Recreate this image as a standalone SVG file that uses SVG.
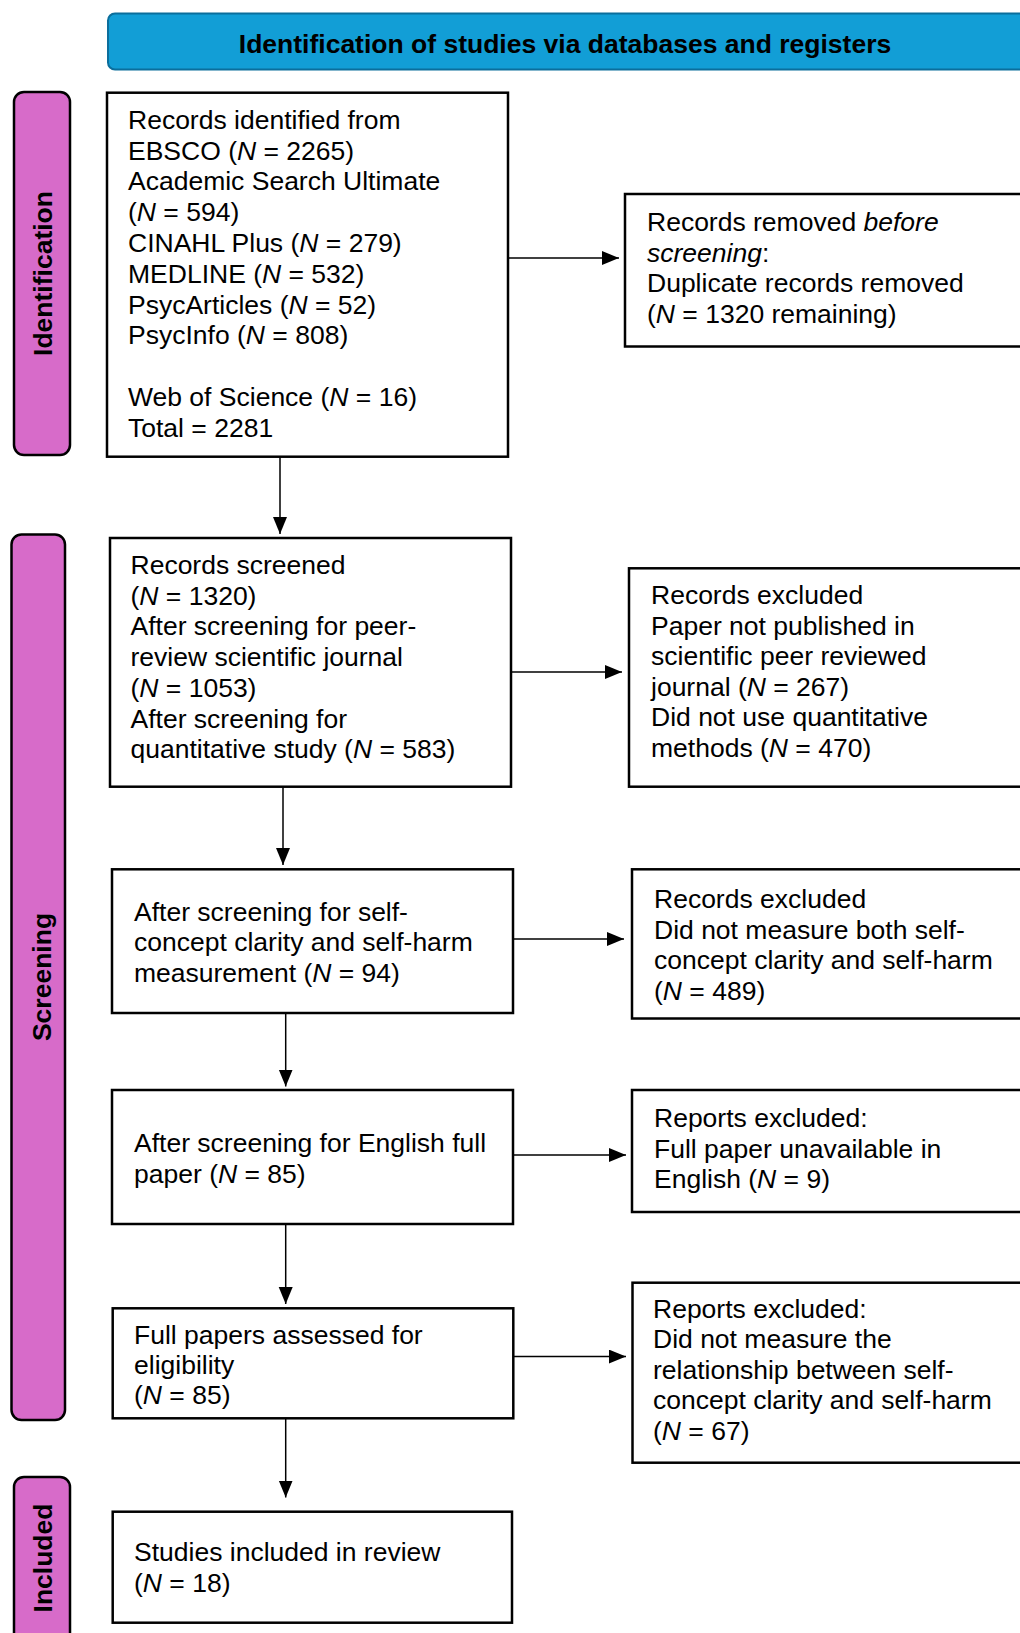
<svg xmlns="http://www.w3.org/2000/svg" width="1020" height="1633" viewBox="0 0 1020 1633">
<style>
.box{fill:#fff;stroke:#000;stroke-width:2.5}
.side{fill:#d76bc9;stroke:#000;stroke-width:2.5}
.hdr{fill:#129ed6;stroke:#0b6e9c;stroke-width:2}
.t{font-family:"Liberation Sans",Arial,sans-serif;font-size:26.5px;fill:#000}
.b{font-family:"Liberation Sans",Arial,sans-serif;font-size:26.5px;font-weight:bold;fill:#000}
.i{font-style:italic}
.c{stroke:#000;stroke-width:1.5;fill:none;marker-end:url(#ah)}
</style>
<defs>
<marker id="ah" markerUnits="userSpaceOnUse" markerWidth="18" markerHeight="16" refX="17" refY="7" orient="auto">
<path d="M0,0 L17,7 L0,14 Z" fill="#000"/>
</marker>
</defs>
<rect width="1020" height="1633" fill="#fff"/>

<g id="header">
<rect class="hdr" x="108" y="13.5" width="930" height="56" rx="7"/>
<text class="b" x="565" y="53" text-anchor="middle">Identification of studies via databases and registers</text>
</g>

<g id="side-identification">
<rect class="side" x="14" y="92" width="56" height="363" rx="10"/>
<text class="b" transform="translate(51.5,273.5) rotate(-90)" text-anchor="middle">Identification</text>
</g>
<g id="side-screening">
<rect class="side" x="11.5" y="534.5" width="53.5" height="885.5" rx="10"/>
<text class="b" transform="translate(50.5,977) rotate(-90)" text-anchor="middle">Screening</text>
</g>
<g id="side-included">
<rect class="side" x="14" y="1477" width="56" height="170" rx="10"/>
<text class="b" transform="translate(51.5,1558) rotate(-90)" text-anchor="middle">Included</text>
</g>

<g id="connectors">
<line class="c" x1="508" y1="258" x2="619" y2="258"/>
<line class="c" x1="280" y1="456.7" x2="280" y2="534"/>
<line class="c" x1="511" y1="672" x2="622" y2="672"/>
<line class="c" x1="283" y1="786.7" x2="283" y2="865"/>
<line class="c" x1="513" y1="939" x2="624" y2="939"/>
<line class="c" x1="285.7" y1="1013" x2="285.7" y2="1086.5"/>
<line class="c" x1="513" y1="1155" x2="626" y2="1155"/>
<line class="c" x1="285.7" y1="1224" x2="285.7" y2="1304"/>
<line class="c" x1="513" y1="1356.6" x2="626" y2="1356.6"/>
<line class="c" x1="285.7" y1="1418.3" x2="285.7" y2="1497.5"/>
</g>

<g id="box-identified">
<rect class="box" x="107" y="92.7" width="401" height="364"/>
<text class="t" x="128">
<tspan x="128" y="128.7">Records identified from</tspan>
<tspan x="128" y="159.5">EBSCO (<tspan class="i">N</tspan> = 2265)</tspan>
<tspan x="128" y="190.3">Academic Search Ultimate</tspan>
<tspan x="128" y="221.1">(<tspan class="i">N</tspan> = 594)</tspan>
<tspan x="128" y="251.9">CINAHL Plus (<tspan class="i">N</tspan> = 279)</tspan>
<tspan x="128" y="282.7">MEDLINE (<tspan class="i">N</tspan> = 532)</tspan>
<tspan x="128" y="313.5">PsycArticles (<tspan class="i">N</tspan> = 52)</tspan>
<tspan x="128" y="344.3">PsycInfo (<tspan class="i">N</tspan> = 808)</tspan>
<tspan x="128" y="405.9">Web of Science (<tspan class="i">N</tspan> = 16)</tspan>
<tspan x="128" y="436.7">Total = 2281</tspan>
</text>
</g>

<g id="box-removed">
<rect class="box" x="625" y="194" width="410" height="152.5"/>
<text class="t">
<tspan x="647" y="231">Records removed <tspan class="i">before</tspan></tspan>
<tspan x="647" y="261.5"><tspan class="i">screening</tspan>:</tspan>
<tspan x="647" y="292">Duplicate records removed</tspan>
<tspan x="647" y="322.5">(<tspan class="i">N</tspan> = 1320 remaining)</tspan>
</text>
</g>

<g id="box-screened">
<rect class="box" x="110" y="538" width="401" height="248.7"/>
<text class="t">
<tspan x="130.5" y="574">Records screened</tspan>
<tspan x="130.5" y="604.7">(<tspan class="i">N</tspan> = 1320)</tspan>
<tspan x="130.5" y="635.4">After screening for peer-</tspan>
<tspan x="130.5" y="666.1">review scientific journal</tspan>
<tspan x="130.5" y="696.8">(<tspan class="i">N</tspan> = 1053)</tspan>
<tspan x="130.5" y="727.5">After screening for</tspan>
<tspan x="130.5" y="758.2">quantitative study (<tspan class="i">N</tspan> = 583)</tspan>
</text>
</g>

<g id="box-excluded1">
<rect class="box" x="629" y="568.3" width="410" height="218.4"/>
<text class="t">
<tspan x="651" y="604">Records excluded</tspan>
<tspan x="651" y="634.6">Paper not published in</tspan>
<tspan x="651" y="665.2">scientific peer reviewed</tspan>
<tspan x="651" y="695.8">journal (<tspan class="i">N</tspan> = 267)</tspan>
<tspan x="651" y="726.4">Did not use quantitative</tspan>
<tspan x="651" y="757">methods (<tspan class="i">N</tspan> = 470)</tspan>
</text>
</g>

<g id="box-scc">
<rect class="box" x="112" y="869.3" width="401" height="143.7"/>
<text class="t">
<tspan x="134" y="920.5">After screening for self-</tspan>
<tspan x="134" y="951.2">concept clarity and self-harm</tspan>
<tspan x="134" y="981.9">measurement (<tspan class="i">N</tspan> = 94)</tspan>
</text>
</g>

<g id="box-excluded2">
<rect class="box" x="632" y="869.3" width="410" height="149.2"/>
<text class="t">
<tspan x="654" y="908">Records excluded</tspan>
<tspan x="654" y="938.5">Did not measure both self-</tspan>
<tspan x="654" y="969">concept clarity and self-harm</tspan>
<tspan x="654" y="999.5">(<tspan class="i">N</tspan> = 489)</tspan>
</text>
</g>

<g id="box-english">
<rect class="box" x="112" y="1090" width="401" height="134"/>
<text class="t">
<tspan x="134" y="1152">After screening for English full</tspan>
<tspan x="134" y="1182.8">paper (<tspan class="i">N</tspan> = 85)</tspan>
</text>
</g>

<g id="box-excluded3">
<rect class="box" x="632" y="1090" width="410" height="122"/>
<text class="t">
<tspan x="654" y="1127">Reports excluded:</tspan>
<tspan x="654" y="1157.5">Full paper unavailable in</tspan>
<tspan x="654" y="1188">English (<tspan class="i">N</tspan> = 9)</tspan>
</text>
</g>

<g id="box-eligibility">
<rect class="box" x="112.7" y="1308.3" width="400.6" height="110"/>
<text class="t">
<tspan x="134" y="1343.5">Full papers assessed for</tspan>
<tspan x="134" y="1373.8">eligibility</tspan>
<tspan x="134" y="1404.1">(<tspan class="i">N</tspan> = 85)</tspan>
</text>
</g>

<g id="box-excluded4">
<rect class="box" x="632.5" y="1282.7" width="410" height="180"/>
<text class="t">
<tspan x="653" y="1317.5">Reports excluded:</tspan>
<tspan x="653" y="1348">Did not measure the</tspan>
<tspan x="653" y="1378.5">relationship between self-</tspan>
<tspan x="653" y="1409">concept clarity and self-harm</tspan>
<tspan x="653" y="1439.5">(<tspan class="i">N</tspan> = 67)</tspan>
</text>
</g>

<g id="box-included">
<rect class="box" x="112.7" y="1511.7" width="399.3" height="111"/>
<text class="t">
<tspan x="134" y="1560.5">Studies included in review</tspan>
<tspan x="134" y="1591.5">(<tspan class="i">N</tspan> = 18)</tspan>
</text>
</g>
</svg>
